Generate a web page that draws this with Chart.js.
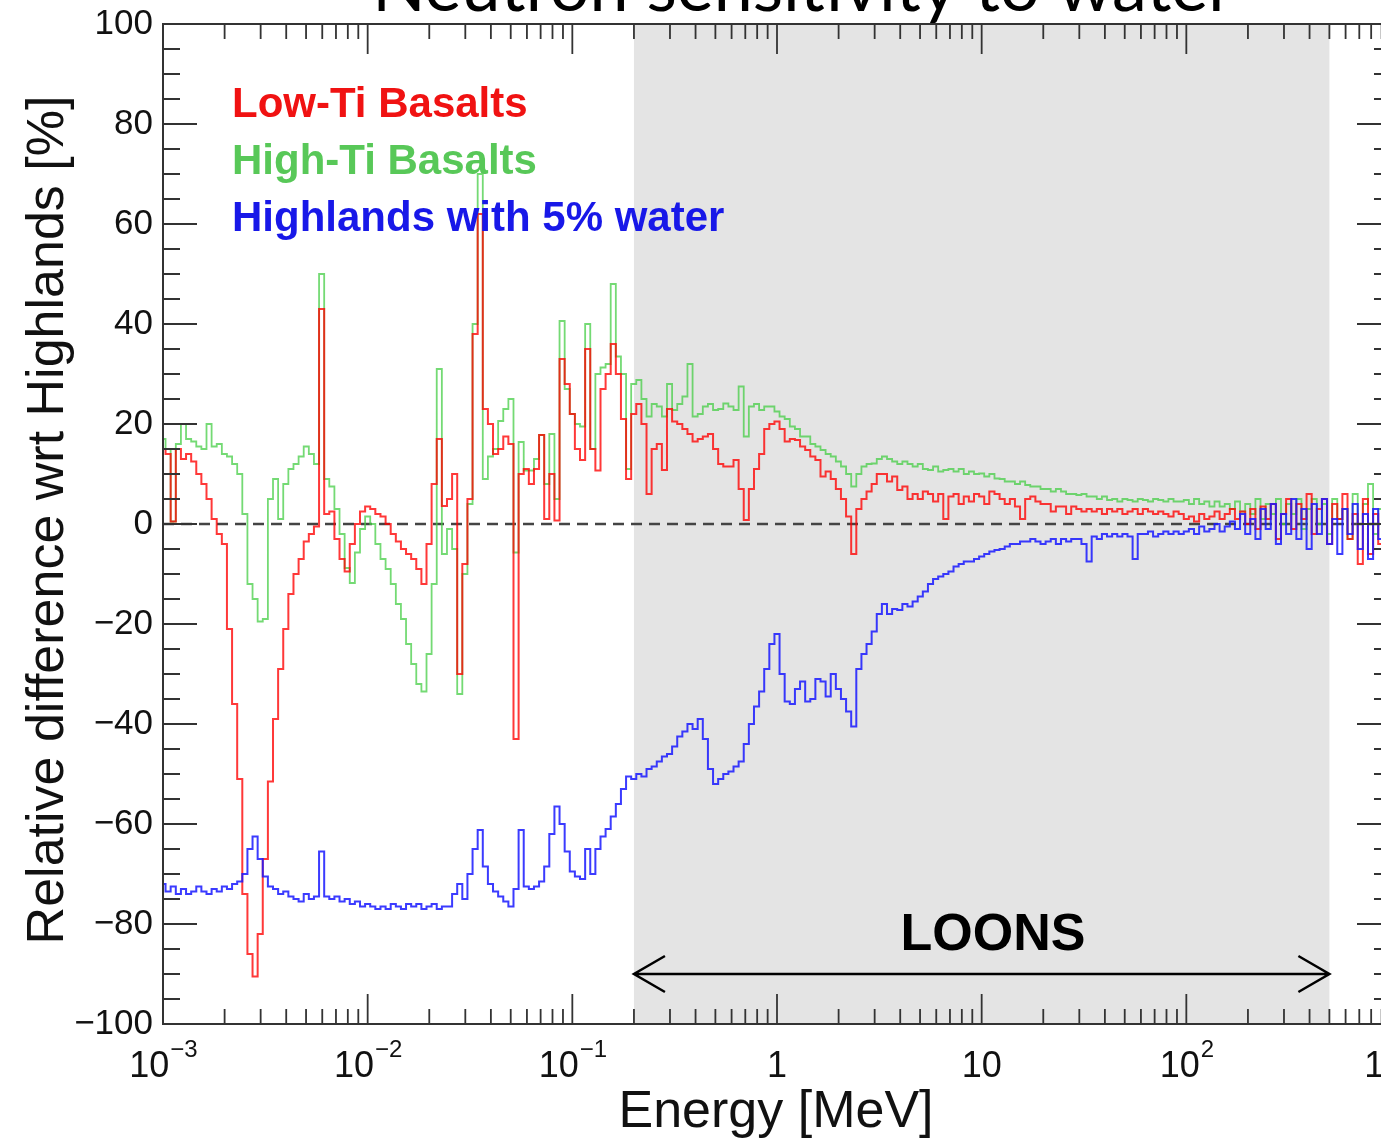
<!DOCTYPE html>
<html>
<head>
<meta charset="utf-8">
<script src="https://cdn.jsdelivr.net/npm/chart.js@4.4.1/dist/chart.umd.min.js"></script>
<style>
  html, body { margin: 0; padding: 0; overflow: hidden; background: #fff; }
  #wrap { position: absolute; left: 0; top: 0; width: 1400px; height: 1142px; }
</style>
</head>
<body>
<div id="wrap"><canvas id="spectrum" width="1400" height="1142"></canvas></div>
<script>
// energy bins: 40 log bins per decade, 1 keV .. 1 GeV
const binMantissa = [1.000, 1.059, 1.122, 1.189, 1.259, 1.334, 1.413, 1.496, 1.585, 1.679,
  1.778, 1.884, 1.995, 2.113, 2.239, 2.371, 2.512, 2.661, 2.818, 2.985,
  3.162, 3.350, 3.548, 3.758, 3.981, 4.217, 4.467, 4.732, 5.012, 5.309,
  5.623, 5.957, 6.310, 6.683, 7.079, 7.499, 7.943, 8.414, 8.913, 9.441];
const binDecades = [-3, -2, -1, 0, 1, 2];
const energy = binDecades.flatMap(d => binMantissa.map(m => m * Math.pow(10, d))).concat([1000]);

// relative difference wrt Highlands [%], one value per bin
const lowTi = [
  15, 14, 0.5, 15, 13, 14, 12.5, 10, 8, 5,
  1, -2, -4, -21, -36, -51, -74, -86, -90.5, -82,
  -67, -51.5, -39, -29, -21, -14, -10, -7, -3.5, -2,
  -0.5, 43, 2, 2.5, -3, -7, -9.5, -4, 0, 2.5,
  3.5, 3, 2, 1.5, 0, -2, -3.5, -5, -6, -7,
  -9, -12, -4, 8, 17, 3.6, 5, 10, -30, -8,
  5, 38, 62, 23, 20, 14, 15, 17.5, 16, -43,
  10, 11, 8, 11, 17.8, 1, 10, 0.7, 33, 28,
  22, 15, 12.8, 35, 15, 10.7, 27, 30, 36, 30,
  21, 9, 22, 24, 20, 6, 15, 16, 10.8, 23,
  20.5, 20, 19, 18, 16.5, 17, 17.5, 18, 15, 12,
  11.5, 11.5, 12.8, 7, 0.8, 7, 11, 14, 19, 20,
  20.5, 19, 16.5, 17, 16.8, 15.5, 14.8, 13.5, 12.8, 9.5,
  10.5, 9, 7, 5, 1.5, -6, 3, 5, 6.5, 8,
  10, 10, 8.5, 9.5, 6.8, 7.5, 5, 6, 5, 6.5,
  6, 4.5, 6, 1, 5.5, 6, 4, 5.5, 4.5, 6,
  5.5, 4, 6.5, 6, 5, 4, 5, 3.5, 1, 5,
  5.5, 4.5, 4, 4, 2.5, 3.5, 3.5, 2, 3.5, 3,
  2.5, 3, 2.5, 3, 2, 3, 2.5, 3, 2, 2.5,
  3, 2, 3, 2.5, 2, 2.5, 2, 1.5, 2.5, 2,
  1, 1.5, 0.5, 2, 1, 1.5, 2.5, 1, 2, 3,
  1, 2.5, 0, 3, -1, 3.5, 1, 4, -3, 2,
  5, -1, 4, 1, 6, -2, 3, 5, -4, 4,
  1, 6, -3, 2, -8, 5, -6, 2, -4, 3,
  0
];
const highTi = [
  17, 15, 0.5, 16, 20, 17, 16.5, 15.5, 15, 20,
  15.5, 16, 14, 13.5, 12, 10, 2, -12, -15, -19.5,
  -19, 5, 9, 1, 8, 11, 12, 13.5, 15.5, 14,
  12, 50, 9, 7.5, 3, -2, -8.8, -11.8, -5.7, -1,
  1.5, 0, -4, -7, -9, -12, -16, -19, -24, -28,
  -32, -33.5, -26, -12, 31, -6, -1, -5, -34, -10,
  4, 40, 70, 9, 13.5, 15, 20.6, 23, 25, -5.7,
  16.4, 10.7, 10.7, 13, 17.8, 8, 18, 5, 40.6, 27,
  22, 20, 19.5, 40, 15, 30, 31.3, 32, 48, 33.5,
  30, 11, 28, 28.8, 25, 21.5, 24, 23.5, 21.5, 28,
  22.8, 24, 25.5, 32, 21.5, 22, 23.5, 24, 22.8, 23,
  24.1, 23.5, 22.8, 27.5, 17.5, 23.5, 24, 22.8, 23.5, 23.5,
  22.5, 21.5, 21, 19.5, 19, 17.5, 17.5, 16, 15.5, 14.8,
  14, 13.5, 12.5, 11.5, 10, 7.5, 10, 11.5, 12, 12.1,
  13, 13.5, 13, 12.5, 12, 12.5, 12, 11.5, 12, 11,
  10.8, 11.5, 10.5, 10.8, 11, 10.5, 11, 10, 10.5, 10,
  10.1, 9.5, 10, 9.1, 9, 8.5, 8.5, 8, 8.5, 7.8,
  7.5, 7.5, 7, 7, 6.5, 7, 6.5, 6, 6, 5.8,
  6, 5.5, 5.5, 5, 5.5, 4.8, 5, 4.5, 5, 4.8,
  4.5, 5, 4.8, 4.5, 5, 4.8, 4.5, 5, 4.5, 4.5,
  4.8, 4, 5, 4, 4.5, 3.5, 4.5, 3.5, 4, 3,
  4.5, 2.5, 4, 2, 5, 1, 4, 2, 5, 0,
  4, 2, 5, -1, 3, 5, 0, 4, -2, 5,
  1, 3, -3, 6, 0, 4, 8, -2, 3, 0,
  2
];
const highlandsWet = [
  -72, -73.5, -72.5, -74, -73, -74, -73.5, -72.5, -73.5, -74,
  -73, -73.5, -72.5, -73, -72, -71.5, -70, -65, -62.5, -67,
  -70.5, -72.5, -73, -74, -73.5, -74.5, -75, -75.5, -74, -75,
  -74.5, -65.5, -74.5, -75, -74.5, -75.5, -75, -76, -75.5, -76.5,
  -76, -76.5, -77, -76.5, -77, -76, -76.5, -77, -76, -76.5,
  -76, -77, -76.5, -76, -77, -76.5, -76.5, -74, -72, -75,
  -70, -65, -61.2, -68.5, -72, -73.5, -74.5, -75.5, -76.5, -73,
  -61.2, -72.5, -73, -72.5, -71.5, -68.5, -62, -56.5, -60, -65.5,
  -69.5, -70.5, -71, -65, -70, -65, -62.5, -61, -58.5, -56,
  -53, -50.5, -51, -50, -50.5, -49, -48.5, -47.5, -46.5, -46,
  -44.5, -42.5, -41.5, -40, -41, -39, -43, -49, -52, -51,
  -50, -49.5, -48.5, -47.5, -44, -40, -36.5, -33.5, -29, -24,
  -22, -30, -35.5, -36, -33, -31.5, -35.5, -35, -31, -31.5,
  -34.5, -30, -33, -35, -37.5, -40.5, -29, -26, -24, -21.5,
  -18, -16, -18, -17, -17.2, -16, -16.5, -15.5, -14.5, -13.5,
  -12, -11, -10.5, -10, -9.5, -8.5, -8, -7.5, -7.5, -7,
  -6.5, -6, -5.5, -5.2, -5, -4.5, -4, -4, -3.5, -3.5,
  -3, -3.5, -4, -3.5, -3, -4, -3, -3.5, -3, -3,
  -4, -7.5, -2.5, -3, -2, -2.5, -2, -2.5, -2, -2.5,
  -7, -2, -2, -1.5, -2.5, -2, -1.5, -2, -1.5, -2,
  -1.5, -1, -2, -0.5, -1.5, -1, 0, -1.5, -0.5, 0.5,
  -1, 2, -2, 1, -3, 3, -1, 4, -4, 2,
  -2, 5, -3, 3, -5, 4, -2, 5, -4, 1,
  -6, 3, -2, 4, -5, 2, -7, 3, -3, 1,
  -2
];

const seriesNames = ['Low-Ti Basalts', 'High-Ti Basalts', 'Highlands with 5% water'];
const seriesColors = ['rgba(255,0,0,0.78)', 'rgba(70,205,70,0.75)', 'rgba(25,25,255,0.85)'];
const labelColors = ['#f01212', '#58c858', '#1818e8'];

const xTickValues = [0.001, 0.01, 0.1, 1, 10, 100, 1000];
const xTickBase = ['10', '10', '10', '1', '10', '10', '10'];
const xTickExp = ['\u22123', '\u22122', '\u22121', '', '', '2', '3'];

// LOONS energy window [MeV]
const loonsRange = [0.2, 500];

const FONT = '"Liberation Sans", Arial, Helvetica, sans-serif';

function histo(values, color, width) {
  return {
    data: energy.map((e, i) => ({ x: e, y: values[i] })),
    borderColor: color,
    borderWidth: width,
    pointRadius: 0,
    stepped: 'middle',
    fill: false
  };
}

const decorations = {
  id: 'decorations',
  beforeDatasetsDraw(chart) {
    const { ctx, chartArea: a, scales: { x, y } } = chart;
    ctx.save();
    // shaded LOONS band
    ctx.fillStyle = '#e4e4e4';
    const x0 = x.getPixelForValue(loonsRange[0]);
    const x1 = x.getPixelForValue(loonsRange[1]);
    ctx.fillRect(x0, a.top, x1 - x0, a.bottom - a.top);
    // zero line
    ctx.strokeStyle = '#444';
    ctx.lineWidth = 2.5;
    ctx.setLineDash([11, 7]);
    ctx.beginPath();
    ctx.moveTo(a.left, y.getPixelForValue(0));
    ctx.lineTo(a.right, y.getPixelForValue(0));
    ctx.stroke();
    ctx.restore();
  },
  afterDatasetsDraw(chart) {
    const { ctx, chartArea: a, scales: { x, y } } = chart;
    ctx.save();

    // frame
    ctx.strokeStyle = '#333';
    ctx.lineWidth = 2;
    ctx.strokeRect(a.left, a.top, a.right - a.left, a.bottom - a.top);

    // inward ticks on all four sides
    ctx.lineWidth = 1.8;
    ctx.beginPath();
    for (let d = -3; d <= 3; d++) {
      for (let m = 1; m <= 9; m++) {
        const v = m * Math.pow(10, d);
        if (v > 1000) break;
        const px = x.getPixelForValue(v);
        const len = m === 1 ? 30 : 15;
        ctx.moveTo(px, a.bottom); ctx.lineTo(px, a.bottom - len);
        ctx.moveTo(px, a.top); ctx.lineTo(px, a.top + len);
      }
    }
    for (let v = -100; v <= 100; v += 5) {
      const py = y.getPixelForValue(v);
      const len = v % 20 === 0 ? 34 : 17;
      ctx.moveTo(a.left, py); ctx.lineTo(a.left + len, py);
      ctx.moveTo(a.right, py); ctx.lineTo(a.right - len, py);
    }
    ctx.stroke();

    // LOONS arrow
    const ay = y.getPixelForValue(-90);
    const ax0 = x.getPixelForValue(loonsRange[0]);
    const ax1 = x.getPixelForValue(loonsRange[1]);
    ctx.strokeStyle = '#000';
    ctx.lineWidth = 2.5;
    ctx.beginPath();
    ctx.moveTo(ax0, ay); ctx.lineTo(ax1, ay);
    ctx.moveTo(ax0 + 31, ay - 18); ctx.lineTo(ax0, ay); ctx.lineTo(ax0 + 31, ay + 18);
    ctx.moveTo(ax1 - 31, ay - 18); ctx.lineTo(ax1, ay); ctx.lineTo(ax1 - 31, ay + 18);
    ctx.stroke();
    ctx.fillStyle = '#000';
    ctx.font = 'bold 52px ' + FONT;
    ctx.textAlign = 'center';
    ctx.textBaseline = 'alphabetic';
    ctx.fillText('LOONS', 993, 950);

    // series labels
    ctx.textAlign = 'left';
    ctx.font = 'bold 42px ' + FONT;
    [117, 174, 231].forEach((by, i) => {
      ctx.fillStyle = labelColors[i];
      ctx.fillText(seriesNames[i], 232, by);
    });

    // x tick labels with exponents
    ctx.fillStyle = '#111';
    xTickValues.forEach((v, i) => {
      const px = x.getPixelForValue(v);
      ctx.font = '36px ' + FONT;
      const wb = ctx.measureText(xTickBase[i]).width;
      ctx.font = '24px ' + FONT;
      const we = xTickExp[i] ? ctx.measureText(xTickExp[i]).width : 0;
      const left = px - (wb + we) / 2;
      ctx.font = '36px ' + FONT;
      ctx.fillText(xTickBase[i], left, 1077);
      if (xTickExp[i]) {
        ctx.font = '24px ' + FONT;
        ctx.fillText(xTickExp[i], left + wb + 1, 1057);
      }
    });

    // axis titles
    ctx.font = '52px ' + FONT;
    ctx.textAlign = 'center';
    ctx.fillText('Energy [MeV]', 776, 1127);
    ctx.save();
    ctx.translate(63, 520);
    ctx.rotate(-Math.PI / 2);
    ctx.fillText('Relative difference wrt Highlands [%]', 0, 0);
    ctx.restore();

    // slide title, partly above the page edge
    ctx.font = '70px Lato, "Open Sans", sans-serif';
    ctx.fillStyle = '#000';
    ctx.fillText('Neutron sensitivity to water', 803, 11);
    ctx.restore();
  }
};

new Chart(document.getElementById('spectrum').getContext('2d'), {
  type: 'line',
  data: {
    datasets: [
      histo(highlandsWet, seriesColors[2], 2),
      histo(lowTi, seriesColors[0], 2),
      histo(highTi, seriesColors[1], 1.8)
    ]
  },
  options: {
    responsive: false,
    devicePixelRatio: 1,
    animation: false,
    layout: { padding: { top: 24, right: 9, left: 0, bottom: 0 } },
    scales: {
      x: {
        type: 'logarithmic',
        min: 0.001,
        max: 1000,
        grid: { display: false, drawTicks: false },
        border: { display: false },
        ticks: { display: false },
        afterFit(scale) { scale.height = 118; }
      },
      y: {
        min: -100,
        max: 100,
        grid: { display: false, drawTicks: false },
        border: { display: false },
        ticks: {
          stepSize: 20,
          padding: 10,
          color: '#111',
          font: { family: FONT, size: 35 },
          callback: v => (v < 0 ? '\u2212' + Math.abs(v) : String(v))
        },
        afterFit(scale) {
          scale.width = 163;
          scale.paddingTop = 0;
          scale.paddingBottom = 0;
        }
      }
    },
    plugins: {
      legend: { display: false },
      tooltip: { enabled: false }
    }
  },
  plugins: [decorations]
});
</script>
</body>
</html>
